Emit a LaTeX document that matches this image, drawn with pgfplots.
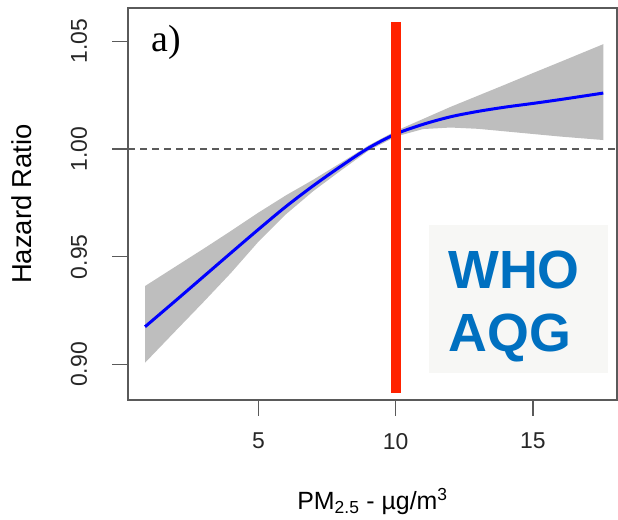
\documentclass[border=0pt]{standalone}
\usepackage{pgfplots}
\pgfplotsset{compat=1.18}
\usepackage{fontspec}
\setmainfont{Liberation Sans}
\newfontfamily\timesfont{Liberation Serif}
\definecolor{band}{HTML}{BEBEBE}
\definecolor{frame}{HTML}{5A5A5A}
\definecolor{whored}{HTML}{FF2200}
\definecolor{boxfill}{HTML}{F7F7F5}
\definecolor{whoblue}{HTML}{0070C0}
\begin{document}
\begin{tikzpicture}
\useasboundingbox (0,0) rectangle (618bp,520bp);
\begin{axis}[
  at={(128bp,120bp)}, anchor=south west,
  width=489bp, height=392bp, scale only axis,
  xmin=0.25, xmax=18.06, ymin=0.8835, ymax=1.0655,
  axis line style={draw=frame, line width=1.3bp},
  tick style={draw=frame, line width=1.3bp},
  tick align=outside, major tick length=15.6bp,
  xtick={5,10,15}, ytick={0.90,0.95,1.00,1.05},
  xtick pos=bottom, ytick pos=left,
  /pgf/number format/assume math mode=true,
  y tick label style={/pgf/number format/fixed, /pgf/number format/fixed zerofill, /pgf/number format/precision=2},
  tick label style={font=\fontsize{23}{23}\selectfont, text=black!85},
  yticklabel style={xshift=-25.4bp, rotate=90, anchor=base},
  xticklabel style={yshift=-14bp},
  xlabel={PM\textsubscript{2.5} - µg/m\textsuperscript{3}},
  ylabel={Hazard Ratio},
  xlabel style={font=\fontsize{25}{25}\selectfont, at={(axis description cs:0.5,-0.2788)}, anchor=base},
  ylabel style={font=\fontsize{27.5}{27.5}\selectfont, at={(axis description cs:-0.2174,0.5)}, rotate=0, anchor=center},
  clip=false,
]
% confidence band (upper edge, then lower edge back)
\addplot[fill=band, draw=none] coordinates {
 (0.87,0.9364) (2.0,0.9456) (3.0,0.9537) (4.0,0.9620) (5.0,0.9705) (6.0,0.9785)
 (7.0,0.9858) (8.0,0.9936) (9.0,1.0016) (10.0,1.0084) (11.0,1.0140) (12.0,1.0196)
 (13.0,1.0248) (14.0,1.0300) (15.0,1.0353) (16.0,1.0405) (17.56,1.0487)
 (17.56,1.0042) (16.0,1.0058) (15.0,1.0070) (14.0,1.0082) (13.0,1.0094) (12.0,1.0100)
 (11.0,1.0093) (10.0,1.0058) (9.0,0.9992) (8.0,0.9900) (7.0,0.9805) (6.0,0.9697)
 (5.0,0.9570) (4.0,0.9425) (3.0,0.9290) (2.0,0.9158) (0.87,0.9008)
} -- cycle;
% reference line
\addplot[draw=frame, line width=1.3bp, dash pattern=on 7bp off 5bp] coordinates {(0.25,1.00) (18.06,1.00)};
% hazard ratio curve
\addplot[draw=blue, line width=3bp, smooth] coordinates {
 (0.87,0.9175) (2.0,0.9298) (3.0,0.9408) (4.0,0.9518) (5.0,0.9627) (6.0,0.9733)
 (7.0,0.9830) (8.0,0.9920) (9.0,1.0004) (10.0,1.0070) (11.0,1.0115) (12.0,1.0150)
 (13.0,1.0175) (14.0,1.0195) (15.0,1.0212) (16.0,1.0230) (17.56,1.0260)
};
% WHO AQG line
\addplot[draw=whored, line width=10bp] coordinates {(10,0.8869) (10,1.0591)};
% WHO AQG box
\fill[boxfill] (axis cs:11.22,0.8959) rectangle (axis cs:17.72,0.9647);
\node[anchor=base west, inner sep=0, text=whoblue, font=\fontsize{54}{54}\selectfont\bfseries] at (axis cs:11.91,0.9353) {WHO};
\node[anchor=base west, inner sep=0, text=whoblue, font=\fontsize{54}{54}\selectfont\bfseries] at (axis cs:11.91,0.9059) {AQG};
\node[anchor=base west, inner sep=0, font=\fontsize{38}{38}\selectfont\timesfont] at (axis cs:1.11,1.0452) {a)};
\end{axis}
\end{tikzpicture}
\end{document}
